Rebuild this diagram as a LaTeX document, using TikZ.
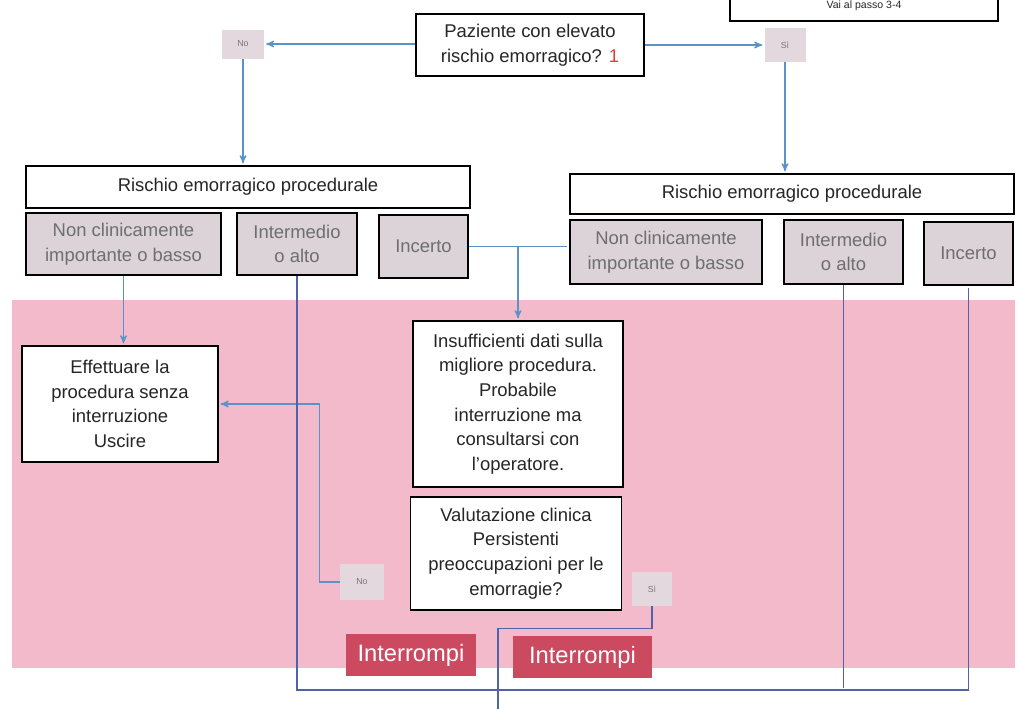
\documentclass[tikz,border=0pt]{standalone}
\usepackage{fontspec}
\setmainfont{Liberation Sans}
\usetikzlibrary{arrows}

\definecolor{bandpink}{HTML}{F3BACB}
\definecolor{flowblue}{HTML}{5B93C9}
\definecolor{linkdark}{HTML}{5261A8}
\definecolor{choicegrey}{HTML}{DCD3D8}
\definecolor{choicetext}{HTML}{6E6E6E}
\definecolor{taggrey}{HTML}{E2D8DE}
\definecolor{tagtext}{HTML}{777777}
\definecolor{stopred}{HTML}{CB4A60}
\definecolor{numred}{HTML}{E0403F}

\begin{document}
\begin{tikzpicture}[x=0.02cm,y=-0.02cm,>=stealth',shorten >=1pt,
                    font=\fontsize{10.5}{14}\selectfont,
                    box/.style={rectangle,draw=black,line width=1pt,fill=white,text=black!85,align=center,inner sep=2pt},
                    choice/.style={box,fill=choicegrey,text=choicetext},
                    tag/.style={rectangle,fill=taggrey,text=tagtext,font=\fontsize{5}{6}\selectfont},
                    stop/.style={rectangle,fill=stopred,text=white,font=\fontsize{13.5}{16}\selectfont},
                    flow/.style={->,draw=flowblue,line width=0.7pt},
                    link/.style={draw=linkdark,line width=0.7pt}]

  \useasboundingbox (0,0) rectangle (1017,708);
  \fill[bandpink] (12,300) rectangle (1015,668);

  \node[box,minimum width=5.36cm,minimum height=0.6cm] (pass) at (864,6) {\fontsize{6}{7}\selectfont Vai al passo 3-4};

  \node[box,minimum width=4.56cm,minimum height=1.24cm] (risk) at (530,45) {Paziente con elevato\\rischio emorragico? \textcolor{numred}{1}};
  \node[tag,minimum width=0.84cm,minimum height=0.58cm] (no1) at (243,44) {No};
  \node[tag,minimum width=0.82cm,minimum height=0.68cm] (si1) at (785,45) {Sì};

  % ramo sinistro
  \node[box,minimum width=8.88cm,minimum height=0.84cm] (proc1) at (248,187) {Rischio emorragico procedurale};
  \node[choice,minimum width=3.9cm,minimum height=1.24cm] (low1) at (123.5,244) {Non clinicamente\\importante o basso};
  \node[choice,minimum width=2.4cm,minimum height=1.24cm] (high1) at (297,244) {Intermedio\\o alto};
  \node[choice,minimum width=1.78cm,minimum height=1.26cm] (unc1) at (423.5,246.5) {Incerto};

  % ramo destro
  \node[box,minimum width=8.88cm,minimum height=0.8cm] (proc2) at (792,194) {Rischio emorragico procedurale};
  \node[choice,minimum width=3.84cm,minimum height=1.28cm] (low2) at (666,252) {Non clinicamente\\importante o basso};
  \node[choice,minimum width=2.38cm,minimum height=1.28cm] (high2) at (843.5,252) {Intermedio\\o alto};
  \node[choice,minimum width=1.78cm,minimum height=1.26cm] (unc2) at (968.5,253.5) {Incerto};

  \node[box,minimum width=3.92cm,minimum height=2.32cm] (eff) at (120,404) {Effettuare la\\procedura senza\\interruzione\\Uscire};
  \node[box,minimum width=4.2cm,minimum height=3.32cm] (ins) at (518,404) {Insufficienti dati sulla\\migliore procedura.\\Probabile\\interruzione ma\\consultarsi con\\l'operatore.};
  \node[box,minimum width=4.22cm,minimum height=2.26cm] (val) at (516,553.5) {Valutazione clinica\\Persistenti\\preoccupazioni per le\\emorragie?};
  \node[tag,minimum width=0.88cm,minimum height=0.72cm] (no2) at (362,582) {No};
  \node[tag,minimum width=0.8cm,minimum height=0.68cm] (si2) at (652,589) {Sì};

  \node[stop,minimum width=2.6cm,minimum height=0.84cm] (stop1) at (411,655) {Interrompi};
  \node[stop,minimum width=2.78cm,minimum height=0.84cm] (stop2) at (582.5,657) {Interrompi};

  \coordinate (split) at (518,246.5);
  \coordinate (floor) at (0,690);
  \coordinate (exit) at (498,712);

  \draw[flow] (risk.west |- no1.east) -- (no1.east);
  \draw[flow] (risk.east |- si1.west) -- (si1.west);
  \draw[flow] (no1.south) -- (no1.south |- proc1.north);
  \draw[flow] (si1.south) -- (si1.south |- proc2.north);
  \draw[link,draw=flowblue] (unc1.east) -- (unc1.east -| low2.west);
  \draw[flow] (split) -- (ins.north);
  \draw[flow] (low1.south) -- (low1.south |- eff.north);
  \draw[flow] (no2.west) -- ++(-20,0) |- (eff.east);
  \draw[link] (high1.south) |- (floor -| unc2.south) -- (unc2.south);
  \draw[link] (high2.south) -- (high2.south |- floor);
  \draw[link] (si2.south) -- ++(0,22) -| (exit);
\end{tikzpicture}
\end{document}
